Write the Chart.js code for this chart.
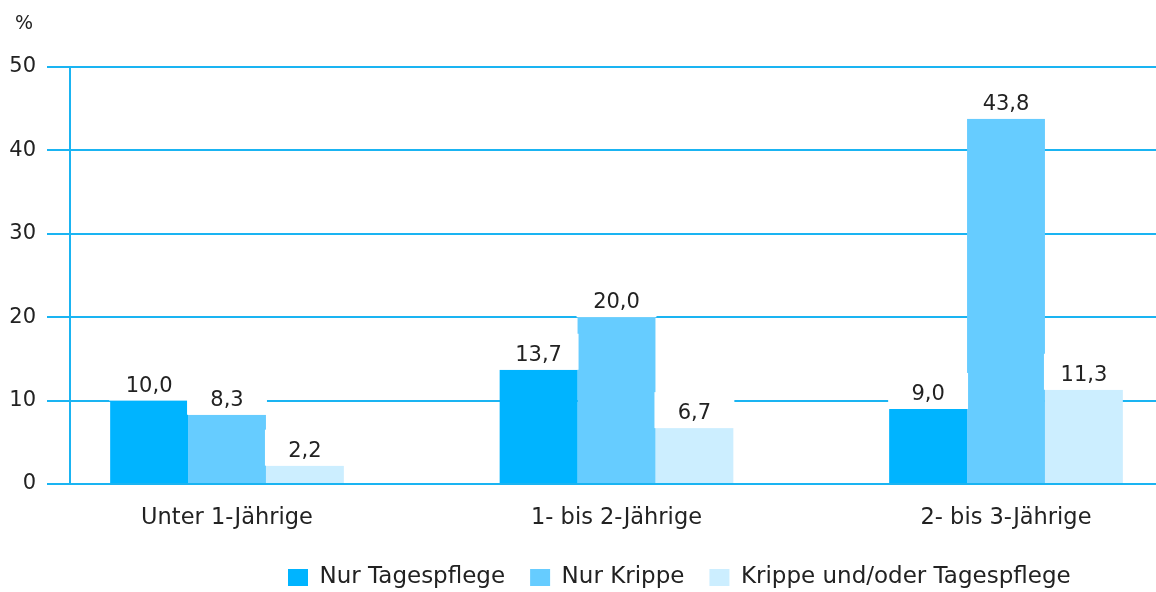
<!DOCTYPE html>
<html>
<head>
<meta charset="utf-8">
<script src="https://cdn.jsdelivr.net/npm/chart.js@4.4.1/dist/chart.umd.min.js"></script>
<style>
  html,body{margin:0;padding:0;background:#fff;}
  #wrap{width:1156px;height:592px;position:relative;}
</style>
</head>
<body>
<div id="wrap"><canvas id="chart"></canvas></div>
<script>
// Kinderbetreuung nach Altersgruppe, in %
const categories = ['Unter 1-Jährige', '1- bis 2-Jährige', '2- bis 3-Jährige'];
const seriesNames = ['Nur Tagespflege', 'Nur Krippe', 'Krippe und/oder Tagespflege'];
const nurTagespflege = [10.0, 13.7, 9.0];
const nurKrippe = [8.3, 20.0, 43.8];
const krippeOderTagespflege = [2.2, 6.7, 11.3];
const yTicks = [0, 10, 20, 30, 40, 50];

const barColors = ['#00b4ff', '#66ccff', '#cceeff'];
const gridBlue = '#1ab4f2';
const textColor = '#222';
const FONT = '"DejaVu Sans", sans-serif';

// value labels sit on a white box that hides the grid behind them
const valueLabels = {
  id: 'valueLabels',
  afterDatasetsDraw(chart){
    const ctx = chart.ctx;
    ctx.save();
    chart.data.datasets.forEach((ds, di) => {
      chart.getDatasetMeta(di).data.forEach(bar => {
        ctx.fillStyle = '#fff';
        ctx.fillRect(bar.x - bar.width/2 - 1, bar.y - 36, bar.width + 2, 36);
      });
    });
    ctx.fillStyle = textColor;
    ctx.font = '21px ' + FONT;
    ctx.textAlign = 'center';
    ctx.textBaseline = 'alphabetic';
    chart.data.datasets.forEach((ds, di) => {
      chart.getDatasetMeta(di).data.forEach((bar, i) => {
        const v = ds.data[i].y;
        ctx.fillText(v.toFixed(1).replace('.', ','), bar.x, bar.y - 9);
      });
    });
    // unit label above the y axis
    ctx.textAlign = 'left';
    ctx.font = '19px ' + FONT;
    ctx.fillText('%', 15, 29);
    ctx.restore();
  }
};

// legend is not centred in the original, push it to the right
const legendShift = {
  id: 'legendShift',
  afterLayout(chart){
    const lg = chart.legend;
    if(!lg) return;
    lg.left += 263;
    lg.right += 263;
    lg.top -= 12;
    lg.bottom -= 12;
  }
};

const toPoints = arr => arr.map((v, i) => ({x: i, y: v}));

new Chart(document.getElementById('chart'), {
  type: 'bar',
  data: {
    datasets: [
      {label: seriesNames[0], data: toPoints(nurTagespflege), backgroundColor: barColors[0]},
      {label: seriesNames[1], data: toPoints(nurKrippe), backgroundColor: barColors[1]},
      {label: seriesNames[2], data: toPoints(krippeOderTagespflege), backgroundColor: barColors[2]}
    ]
  },
  options: {
    responsive: true,
    maintainAspectRatio: false,
    animation: false,
    layout: {padding: {top: 67, right: 0, bottom: -19, left: 0}},
    datasets: {bar: {categoryPercentage: 0.6, barPercentage: 1.0, borderWidth: 0}},
    scales: {
      x: {
        type: 'linear',
        offset: false,
        min: -0.4031,
        max: 2.3851,
        afterBuildTicks(s){ s.ticks = categories.map((c, i) => ({value: i})); },
        ticks: {
          callback: v => categories[v],
          color: textColor,
          font: {family: FONT, size: 22.5},
          padding: 21,
          maxRotation: 0
        },
        grid: {display: false, drawTicks: false},
        border: {display: false}
      },
      y: {
        min: 0,
        max: 50,
        afterBuildTicks(s){ s.ticks = yTicks.map(v => ({value: v})); },
        afterFit(s){ s.width = 70; },
        ticks: {
          color: textColor,
          font: {family: FONT, size: 21},
          padding: 11
        },
        grid: {color: gridBlue, lineWidth: 2, tickLength: 23},
        border: {display: true, color: gridBlue, width: 2}
      }
    },
    plugins: {
      legend: {
        position: 'bottom',
        align: 'start',
        labels: {
          boxWidth: 20,
          boxHeight: 17,
          padding: 25,
          color: textColor,
          font: {family: FONT, size: 23}
        }
      },
      tooltip: {enabled: false}
    }
  },
  plugins: [valueLabels, legendShift]
});
</script>
</body>
</html>
